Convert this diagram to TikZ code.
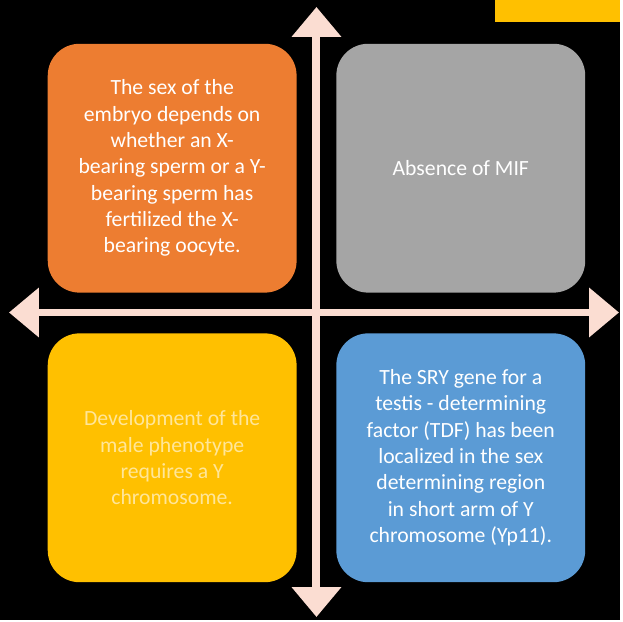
\documentclass[tikz,border=0pt]{standalone}
\usepackage{fontspec}
\setmainfont{Carlito}
\usetikzlibrary{arrows.meta,positioning}
\definecolor{sexOrange}{HTML}{ED7D31}
\definecolor{sexGrey}{HTML}{A5A5A5}
\definecolor{sexGold}{HTML}{FFC000}
\definecolor{sexBlue}{HTML}{5B9BD5}
\definecolor{sexPeach}{HTML}{FBDDD2}
\definecolor{sexPale}{HTML}{FFE699}

\begin{document}
\begin{tikzpicture}[x=0.025cm,y=-0.025cm,
    tile/.style={rounded corners=0.8cm,minimum width=6.25cm,minimum height=6.25cm,
                 inner sep=0pt,align=center,text=white,
                 font=\fontsize{15.5}{18.8}\selectfont},
    axis/.style={draw=sexPeach,line width=0.2cm,
                 {Triangle[width=1.2cm,length=0.75cm]}-{Triangle[width=1.2cm,length=0.75cm]}}]

  \path[fill=black] (0,0) rectangle (623,623);
  \fill[sexGold] (497,0) rectangle (623,22);

  \coordinate (top) at (318,7);
  \coordinate (bottom) at (318,620);
  \coordinate (left) at (9,314);
  \coordinate (right) at (622,314);

  \node[tile,fill=sexOrange] (sex) at (173,169) {%
    The sex of the\\
    embryo depends on\\
    whether an X-\\
    bearing sperm or a Y-\\
    bearing sperm has\\
    fertilized the X-\\
    bearing oocyte.};
  \node[tile,fill=sexGrey] (mif) at (463,169) {Absence of MIF};
  \node[tile,fill=sexGold,text=sexPale] (male) at (173,460) {%
    Development of the\\
    male phenotype\\
    requires a Y\\
    chromosome.};
  \node[tile,fill=sexBlue] (sry) at (463,460) {%
    The SRY gene for a\\
    testis - determining\\
    factor (TDF) has been\\
    localized in the sex\\
    determining region\\
    in short arm of Y\\
    chromosome (Yp11).};

  \draw[axis] (left) -- (right);
  \draw[axis] (bottom) -- (top);
\end{tikzpicture}
\end{document}
